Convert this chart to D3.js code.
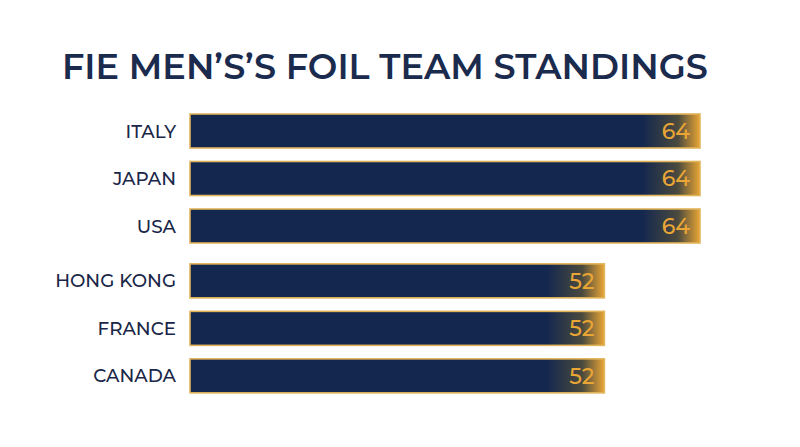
<!DOCTYPE html>
<html>
<head>
<meta charset="utf-8">
<script src="https://cdn.jsdelivr.net/npm/d3@7"></script>
<style>
  html, body { margin: 0; padding: 0; background: #ffffff; }
  svg { display: block; }
</style>
</head>
<body>
<div id="chart"></div>
<script>
// data
const title = "FIE MEN\u2019S\u2019S FOIL TEAM STANDINGS";
const teams = ["ITALY", "JAPAN", "USA", "HONG KONG", "FRANCE", "CANADA"];
const points = [64, 64, 64, 52, 52, 52];

const width = 800, height = 447;
const navy = "#13274f", gold = "#e9a535", ink = "#1a2647";

const svg = d3.select("#chart").append("svg")
  .attr("width", width)
  .attr("height", height);

// gradient: navy bar fading to gold on its right end
const defs = svg.append("defs");
points.forEach((d, i) => {
  const grad = defs.append("linearGradient")
    .attr("id", "barGrad" + i);
  grad.append("stop").attr("class", "s0").attr("stop-color", navy);
  grad.append("stop").attr("class", "s1").attr("stop-color", navy);
  grad.append("stop").attr("class", "s2").attr("stop-color", "#4a4a3e");
  grad.append("stop").attr("class", "s3").attr("stop-color", gold);
});

// title, sized to fill its width
const titleText = svg.append("text")
  .attr("x", 62)
  .attr("y", 79)
  .style("font-family", "Montserrat, 'Open Sans', sans-serif")
  .style("font-weight", 600)
  .style("font-size", "35px")
  .attr("fill", "#1b2b4d")
  .text(title);
const tw = titleText.node().getComputedTextLength();
titleText.style("font-size", (35 * 646 / tw) + "px");

// scales
const x = d3.scaleLinear().domain([0, 64]).range([190, 700]);

// rows: extra gap whenever the score drops to a new tier
let tier = 0;
const slots = points.map((d, i) => {
  if (i > 0 && d !== points[i - 1]) tier++;
  return i + tier * 0.155;
});
const y = d3.scaleLinear().domain([0, 1]).range([114, 161.5]);
const barH = 34;

const rows = svg.selectAll(".row")
  .data(teams)
  .enter().append("g")
  .attr("class", "row")
  .attr("transform", (d, i) => "translate(0," + y(slots[i]) + ")");

// bars
rows.append("rect")
  .attr("x", x(0))
  .attr("y", 0)
  .attr("width", (d, i) => x(points[i]) - x(0))
  .attr("height", barH)
  .attr("fill", (d, i) => "url(#barGrad" + i + ")")
  .attr("stroke", "#e2b45a")
  .attr("stroke-width", 1.6);

// set gradient stops so the fade is ~55px regardless of bar length
points.forEach((d, i) => {
  const w = x(d) - x(0);
  const g = defs.select("#barGrad" + i);
  g.select(".s0").attr("offset", 0);
  g.select(".s1").attr("offset", 1 - 58 / w);
  g.select(".s2").attr("offset", 1 - 22 / w);
  g.select(".s3").attr("offset", 1);
});

// team labels
rows.append("text")
  .attr("x", 176)
  .attr("y", barH / 2)
  .attr("dy", "0.36em")
  .attr("text-anchor", "end")
  .style("font-family", "Montserrat, 'Open Sans', sans-serif")
  .style("font-weight", 500)
  .style("font-size", "18.3px")
  .attr("fill", ink)
  .text(d => d);

// value labels
rows.append("text")
  .attr("x", (d, i) => x(points[i]) - 10)
  .attr("y", barH / 2)
  .attr("dy", "0.36em")
  .attr("text-anchor", "end")
  .style("font-family", "Montserrat, 'Open Sans', sans-serif")
  .style("font-weight", 500)
  .style("font-size", "22px")
  .attr("fill", gold)
  .text((d, i) => points[i]);
</script>
</body>
</html>
